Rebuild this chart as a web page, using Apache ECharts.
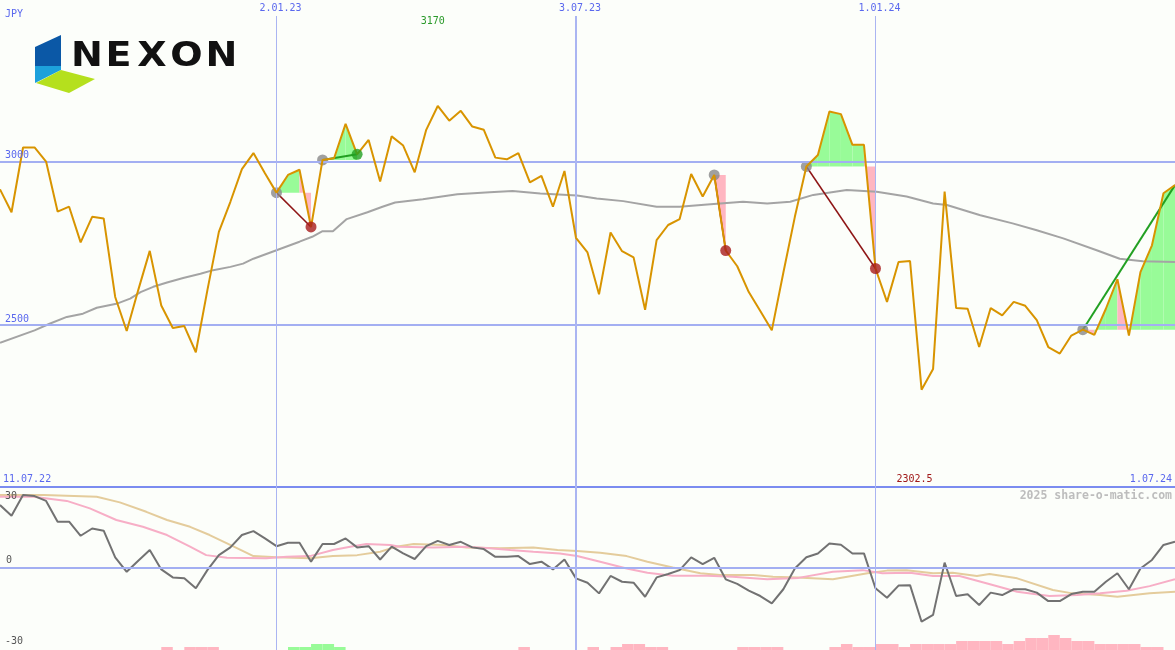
<!DOCTYPE html>
<html><head><meta charset="utf-8">
<script src="https://cdn.jsdelivr.net/npm/echarts@6/dist/echarts.min.js"></script>
<style>html,body{margin:0;padding:0;background:#fcfefa}#c{width:1175px;height:650px}</style>
</head><body><div id="c"></div>
<script>
// ---------- data (weekly, index 0 = 18.07.22 ... 102 = 1.07.24) ----------
const currency = 'JPY';
const rangeLabels = ['11.07.22', '1.07.24'];
const dateTicks = ['2.01.23', '3.07.23', '1.01.24'];
const dateTickIdx = [24, 50, 76];
const priceTicks = [2500, 3000];
const oscTicks = [-30, 0, 30];
const maxLabel = '3170';
const minLabel = '2302.5';
const watermark = '2025 share-o-matic.com';

const price = [
  2915, 2845, 3043, 3043, 3000, 2847, 2862, 2753, 2831, 2826,
  2586, 2482, 2607, 2727, 2560, 2491, 2497, 2417, 2606, 2785,
  2877, 2977, 3026, 2964, 2905, 2959, 2975, 2800, 3005, 3010,
  3115, 3022, 3066, 2939, 3077, 3049, 2967, 3097, 3170, 3125,
  3155, 3107, 3097, 3012, 3007, 3026, 2936, 2956, 2862, 2971,
  2767, 2722, 2594, 2783, 2726, 2707, 2547, 2760, 2806, 2824,
  2962, 2893, 2959, 2728, 2680, 2601, 2543, 2484, 2660, 2831,
  2985, 3020, 3153, 3145, 3051, 3051, 2673, 2571, 2693, 2696,
  2302.5, 2366, 2908, 2552, 2550, 2433, 2552, 2530, 2571, 2559,
  2515, 2433, 2413, 2468, 2486, 2470, 2550, 2640, 2468, 2662,
  2744, 2903, 2928
];

const movingAvg = [
  [0,2446],[3,2484],[4.3,2504],[5.8,2525],[7.2,2535],[8.4,2553],[10.1,2565],[11.3,2581],
  [12.2,2601],[13.3,2617],[14.5,2630],[15.9,2644],[17.4,2657],[18.5,2668],[20,2678],
  [21.1,2688],[22,2703],[24,2729],[26,2755],[27.1,2770],[28,2787],[28.9,2787],[30.1,2824],
  [31.9,2845],[33.2,2862],[34.3,2875],[36.7,2885],[39.7,2900],[42.5,2906],[44.5,2910],
  [46.9,2902],[50.1,2896],[51.8,2887],[54.1,2879],[57,2862],[59,2862],[61.4,2869],
  [64.5,2877],[66.6,2872],[68.6,2877],[70.6,2898],[73.5,2913],[76.1,2908],[78.7,2893],
  [81,2872],[82.2,2867],[85.1,2836],[87.9,2811],[90,2790],[92.3,2765],[95.2,2729],
  [97.2,2703],[99.2,2695],[102,2693]
];

const tradeEntry = [24, 28, 62, 70, 94];
const tradeExit = [27, 31, 63, 76, 102];
const tradeClosed = [true, true, true, true, false];

const oscMomentum = [
  25.9, 21.5, 30, 29.6, 27.6, 19, 19, 13.2, 16.2, 15.3,
  4.3, -1.7, 2.9, 7.3, -0.7, -4, -4.4, -8.5, -1, 5.2,
  8.4, 13.5, 15.1, 12.1, 8.9, 10.3, 10.3, 2.5, 9.8, 9.8,
  12.1, 8.4, 8.9, 3.4, 8.7, 5.9, 3.6, 8.9, 11.1, 9.4,
  10.7, 8.4, 7.7, 4.5, 4.5, 4.8, 1.5, 2.5, -0.7, 3.4,
  -4.4, -6.2, -10.6, -3.4, -5.8, -6.2, -12, -4, -2.6, -1,
  4.3, 1.5, 4.1, -4.8, -6.7, -9.5, -11.7, -14.7, -8.9, -0.3,
  4.3, 5.9, 10, 9.5, 5.9, 5.9, -8.5, -12.4, -7.4, -7.2,
  -22.3, -19.5, 2.1, -11.7, -11, -15.4, -10.3, -11.3, -8.9, -8.9,
  -10.3, -13.8, -13.8, -10.9, -9.9, -9.9, -5.8, -2.3, -8.9, -0.3,
  3.2, 9.4, 10.7
];

const oscPink = [
  [0,29.3],[2.9,29.3],[5.8,27.6],[7.8,24.5],[10.1,19.7],[12.4,16.9],[14.5,13.5],[16.5,8.7],
  [17.9,5.2],[19.7,4.1],[23.1,3.9],[24.9,4.5],[26.9,4.8],[28.9,7.3],[30.4,8.7],[31.8,9.8],
  [33.9,9.4],[34.7,8.7],[37.6,8.4],[40.5,8.7],[42.5,8],[44.3,7.3],[46.3,6.6],[48.6,5.9],
  [50.1,4.8],[52.1,2.5],[54.4,-0.3],[56.2,-2.1],[58.4,-3.3],[61.4,-3.3],[63.6,-3.7],
  [66.6,-4.8],[69.3,-4.2],[72.3,-1.7],[74.9,-1],[76.6,-2.3],[79,-2.1],[81,-3.4],[83.3,-3.4],
  [85.7,-6.5],[88.3,-9.9],[91.1,-11.7],[93.5,-11.3],[95.5,-10.6],[97.8,-9.5],[99.8,-7.6],
  [102,-4.8]
];

const oscTan = [
  [0,30],[3.8,30],[8.4,29.3],[10.4,27],[12.7,23.1],[14.5,19.7],[16.5,16.9],[18.2,13.5],
  [20.3,8.7],[22,4.8],[24,4.3],[26.9,3.9],[28.9,4.8],[31,5.2],[33,6.6],[34.4,8.7],
  [35.9,9.8],[38.5,9.4],[40.5,8.4],[43.4,8],[46.3,8.4],[48.4,7.3],[50.1,6.9],[52.1,6.2],
  [54.4,4.8],[56.2,2.5],[58.4,0.1],[60.8,-2.3],[62.5,-3],[65.4,-3],[67.1,-3.7],[69.2,-4],
  [72.3,-4.8],[75.3,-2.3],[77,-1.2],[78.7,-1],[81,-2.3],[82.7,-2.1],[84.8,-3.4],[85.9,-2.6],
  [88.3,-4.4],[91.4,-9.2],[93.1,-10.6],[95.5,-11.3],[97,-12],[99.8,-10.6],[102,-9.9]
];

// signal bars: [week index, level] (+ green, - pink)
const signalBars = [
  [14,-1],[16,-1],[17,-1],[18,-1],[25,1],[26,1],[27,2],[28,2],[29,1],
  [45,-1],[51,-1],[53,-1],[54,-2],[55,-2],[56,-1],[57,-1],
  [64,-1],[65,-1],[66,-1],[67,-1],[72,-1],[73,-2],[74,-1],[75,-1],[76,-2],[77,-2],[78,-1],
  [79,-2],[80,-2],[81,-2],[82,-2],[83,-3],[84,-3],[85,-3],[86,-3],[87,-2],[88,-3],
  [89,-4],[90,-4],[91,-5],[92,-4],[93,-3],[94,-3],[95,-2],[96,-2],[97,-2],[98,-2],[99,-1],[100,-1]
];

// ---------- chart ----------
const BLUE = '#5a68ee';
const GRIDLINE = '#a3aff2';
const chart = echarts.init(document.getElementById('c'), null, {renderer: 'canvas'});

const fillData = [];
tradeEntry.forEach((e, t) => {
  const L = price[e];
  for (let k = e; k < tradeExit[t]; k++) fillData.push([k, L, price[k], price[k + 1]]);
});

const xBase = {type: 'value', min: 0, max: price.length - 1, show: false, splitLine: {show: false}};

const series = [];
series.push({
  type: 'line', xAxisIndex: 0, yAxisIndex: 0, data: [], z: 1, silent: true,
  markLine: {
    symbol: ['none', 'none'], silent: true, animation: false, label: {show: false},
    emphasis: {disabled: true},
    data: [
      ...priceTicks.map(v => ({yAxis: v, lineStyle: {color: GRIDLINE, width: 2, type: 'solid'}})),
      ...dateTickIdx.map((v, j) => ({xAxis: v, lineStyle: {color: '#aab5f2', width: j === 1 ? 2 : 1, type: 'solid'}}))
    ]
  }
});
series.push({
  type: 'line', xAxisIndex: 1, yAxisIndex: 1, data: [], z: 1, silent: true,
  markLine: {
    symbol: ['none', 'none'], silent: true, animation: false, label: {show: false},
    emphasis: {disabled: true},
    data: [
      {yAxis: 0, lineStyle: {color: GRIDLINE, width: 2, type: 'solid'}},
      ...dateTickIdx.map((v, j) => ({xAxis: v, lineStyle: {color: '#aab5f2', width: j === 1 ? 2 : 1, type: 'solid'}}))
    ]
  }
});
series.push({
  type: 'custom', xAxisIndex: 0, yAxisIndex: 0, z: 2, silent: true,
  data: fillData, encode: {x: 0, y: 1},
  renderItem: function (params, api) {
    const k = api.value(0), L = api.value(1), p0 = api.value(2), p1 = api.value(3);
    const pts = [api.coord([k, L]), api.coord([k, p0]), api.coord([k + 1, p1]), api.coord([k + 1, L])];
    return {type: 'polygon', shape: {points: pts}, style: {fill: p1 >= L ? '#98fb98' : '#ffb6c1'}};
  }
});
series.push({
  type: 'line', xAxisIndex: 0, yAxisIndex: 0, data: movingAvg, z: 3, silent: true,
  symbol: 'none', lineStyle: {color: '#a4a4a4', width: 2}
});
tradeEntry.forEach((e, t) => {
  const x = tradeExit[t];
  const win = price[x] >= price[e];
  series.push({
    type: 'line', xAxisIndex: 0, yAxisIndex: 0, z: 4, silent: true, symbol: 'none',
    data: [[e, price[e]], [x, price[x]]],
    lineStyle: {color: win ? '#22a022' : '#8e1515', width: win ? 2 : 1.5}
  });
});
series.push({
  type: 'scatter', xAxisIndex: 0, yAxisIndex: 0, z: 4, silent: true,
  symbolSize: 11, itemStyle: {color: '#888888'},
  data: tradeEntry.map(e => [e, price[e]])
});
series.push({
  type: 'line', xAxisIndex: 0, yAxisIndex: 0, z: 5, silent: true,
  data: price.map((v, i) => [i, v]), symbol: 'none',
  lineStyle: {color: '#d89400', width: 2}
});
series.push({
  type: 'scatter', xAxisIndex: 0, yAxisIndex: 0, z: 6, silent: true, symbolSize: 11,
  data: tradeExit.map((x, t) => tradeClosed[t] ? {
    value: [x, price[x]],
    itemStyle: {color: price[x] >= price[tradeEntry[t]] ? '#22a022' : '#a81c1c'}
  } : null).filter(Boolean)
});
series.push({
  type: 'line', xAxisIndex: 1, yAxisIndex: 1, z: 3, silent: true, symbol: 'none',
  data: oscTan, lineStyle: {color: '#e4cc9c', width: 2}
});
series.push({
  type: 'line', xAxisIndex: 1, yAxisIndex: 1, z: 3, silent: true, symbol: 'none',
  data: oscPink, lineStyle: {color: '#f7aec6', width: 2}
});
series.push({
  type: 'line', xAxisIndex: 1, yAxisIndex: 1, z: 4, silent: true, symbol: 'none',
  data: oscMomentum.map((v, i) => [i, v]), lineStyle: {color: '#727272', width: 2}
});
series.push({
  type: 'custom', xAxisIndex: 2, yAxisIndex: 2, z: 2, silent: true,
  data: signalBars, encode: {x: 0, y: 1},
  renderItem: function (params, api) {
    const i = api.value(0), l = api.value(1);
    const a = api.coord([i, Math.abs(l)]), b = api.coord([i + 1, 0]);
    return {type: 'rect', shape: {x: a[0], y: a[1], width: b[0] - a[0], height: b[1] - a[1]},
            style: {fill: l > 0 ? '#98fb98' : '#ffb6c1'}};
  }
});

chart.setOption({
  animation: false,
  backgroundColor: '#fcfefa',
  grid: [
    {left: 0, right: 0, top: 16, height: 471},
    {left: 0, right: 0, top: 487, height: 163},
    {left: 0, right: 0, top: 620, height: 30}
  ],
  xAxis: [
    Object.assign({gridIndex: 0}, xBase),
    Object.assign({}, xBase, {gridIndex: 1, show: true, position: 'top',
      axisLine: {show: true, onZero: false, lineStyle: {color: '#7b8cf0', width: 2}},
      axisTick: {show: false}, axisLabel: {show: false}}),
    Object.assign({gridIndex: 2}, xBase)
  ],
  yAxis: [
    {gridIndex: 0, type: 'value', min: 2005, max: 3445, show: false, splitLine: {show: false}},
    {gridIndex: 1, type: 'value', min: -34, max: 33.35, show: false, splitLine: {show: false}},
    {gridIndex: 2, type: 'value', min: 0, max: 10, show: false, splitLine: {show: false}}
  ],
  series: series
});

// ---------- texts & logo placed through the chart scales ----------
const px = (g, p) => chart.convertToPixel({gridIndex: g}, p);
const mono = '"DejaVu Sans Mono", monospace';
const txt = (x, y, text, color, align, vAlign, font) => ({
  type: 'text', x: x, y: y, silent: true, z: 100,
  style: {text: text, fill: color, align: align || 'left', verticalAlign: vAlign || 'top', font: font || ('10px ' + mono)}
});
const g = [];
g.push(txt(5, 9, currency, BLUE));
priceTicks.forEach(v => { const p = px(0, [0, v]); g.push(txt(5, p[1] - 1, String(v), BLUE, 'left', 'bottom')); });
dateTicks.forEach((s, j) => { const p = px(0, [dateTickIdx[j], 0]); g.push(txt(p[0] + 4, 3, s, BLUE, 'center', 'top')); });
g.push(txt(3, 484, rangeLabels[0], BLUE, 'left', 'bottom'));
g.push(txt(1172, 484, rangeLabels[1], BLUE, 'right', 'bottom'));
const iMax = price.indexOf(Math.max(...price)), iMin = price.indexOf(Math.min(...price));
g.push(txt(px(0, [iMax, 0])[0] - 5, 16, maxLabel, '#2a9a2a', 'center', 'top'));
g.push(txt(px(0, [iMin, 0])[0] - 7, 484, minLabel, '#a01818', 'center', 'bottom'));
oscTicks.forEach(v => {
  const p = px(1, [0, v]);
  if (v === 0) g.push(txt(6, p[1] - 2, String(v), '#555555', 'left', 'bottom'));
  else g.push(txt(5, p[1] + 1, String(v), '#555555', 'left', 'middle'));
});
g.push(txt(1172, 490, watermark, '#bdbdbd', 'right', 'top', 'bold 11.5px ' + mono));
// logo
g.push({type: 'polygon', silent: true, z: 100, shape: {points: [[35,47],[61,35],[61,66],[35,66]]}, style: {fill: '#0b58a6'}});
g.push({type: 'polygon', silent: true, z: 100, shape: {points: [[35,66],[61,66],[61,70],[35,83]]}, style: {fill: '#1da1dc'}});
g.push({type: 'polygon', silent: true, z: 100, shape: {points: [[36,83],[61,70],[95,79],[69,93]]}, style: {fill: '#b5e01d'}});
const logoLetters = ['N', 'E', 'X', 'O', 'N'];
const logoCx = [87, 118.5, 152, 186.5, 221.5];
logoLetters.forEach((c, j) => g.push({
  type: 'text', silent: true, z: 100, x: logoCx[j], y: 74, scaleX: 1.12,
  style: {text: c, fill: '#111111', align: 'center', verticalAlign: 'bottom', font: 'bold 34px "DejaVu Sans"'}
}));
chart.setOption({graphic: g});
</script>
</body></html>
